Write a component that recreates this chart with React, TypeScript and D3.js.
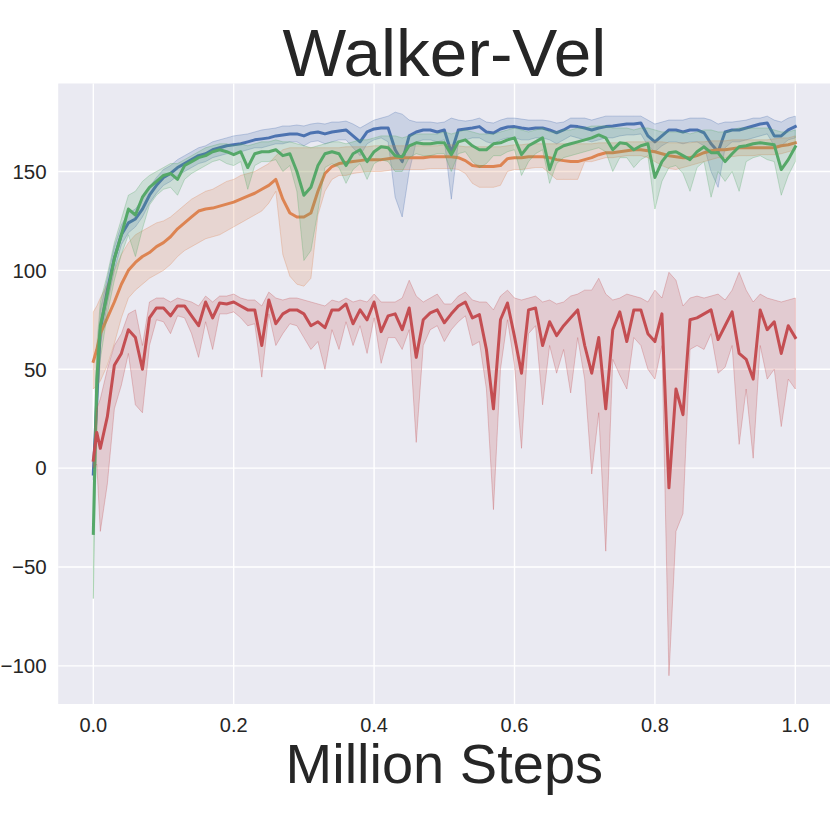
import React from 'react';
import * as d3 from 'd3';

const steps = [0, 0.005, 0.01, 0.02, 0.03, 0.04, 0.05, 0.06, 0.07, 0.08, 0.09,
  0.1, 0.11, 0.12, 0.13, 0.14, 0.15, 0.16, 0.17, 0.18, 0.19,
  0.2, 0.21, 0.22, 0.23, 0.24, 0.25, 0.26, 0.27, 0.28, 0.29,
  0.3, 0.31, 0.32, 0.33, 0.34, 0.35, 0.36, 0.37, 0.38, 0.39,
  0.4, 0.41, 0.42, 0.43, 0.44, 0.45, 0.46, 0.47, 0.48, 0.49,
  0.5, 0.51, 0.52, 0.53, 0.54, 0.55, 0.56, 0.57, 0.58, 0.59,
  0.6, 0.61, 0.62, 0.63, 0.64, 0.65, 0.66, 0.67, 0.68, 0.69,
  0.7, 0.71, 0.72, 0.73, 0.74, 0.75, 0.76, 0.77, 0.78, 0.79,
  0.8, 0.81, 0.82, 0.83, 0.84, 0.85, 0.86, 0.87, 0.88, 0.89,
  0.9, 0.91, 0.92, 0.93, 0.94, 0.95, 0.96, 0.97, 0.98, 0.99, 1.0];

const blueMean = [-3, 35, 70, 90, 106, 118, 124, 126, 131, 138, 143,
  147, 149, 152, 154, 156, 158, 159, 161, 162, 163,
  163.5, 164, 165, 166, 166.5, 167, 168, 168.5, 169, 169,
  168, 169.5, 170, 169, 170, 170.5, 171, 168, 165, 170,
  171.5, 172, 172, 161, 155, 168, 170, 171, 171, 170,
  171, 159.5, 171, 171.5, 172, 172.7, 170, 169.5, 171.5, 172.5,
  172.7, 172, 171.5, 172, 172, 171, 169.6, 171, 173, 172.7,
  172, 171, 172, 172.7, 173, 173.5, 174, 174, 174.5, 168,
  165, 168, 171, 171, 170, 171, 171, 169.6, 164, 160,
  170, 171, 171, 172, 173, 174, 174.5, 168, 168, 171, 172.7];
const blueLo = [-6, 25, 62, 83, 100, 113, 119, 122, 127, 134, 139,
  143, 145, 148, 150, 152, 154, 155, 157, 158, 159,
  159, 160, 161, 162, 162, 163, 164, 164, 165, 165,
  163, 165, 165.5, 164, 165, 166, 166, 162, 158, 164,
  166, 167, 165, 137, 127, 150, 165, 166, 166, 165,
  166, 136, 165, 166, 167, 167, 165, 164, 166, 167,
  167, 166, 166, 167, 167, 166, 164, 166, 168, 167,
  166, 165, 166, 167, 167, 168, 168.5, 168.5, 169, 163,
  160, 163, 165, 165, 164, 165, 165, 163, 150, 142,
  162, 165, 165, 166, 167, 168, 169, 163, 163, 166, 167];
const blueHi = [0, 45, 80, 96, 112, 123, 129, 131, 136, 142, 147,
  151, 153, 156, 158, 160, 162, 163, 165, 166, 167,
  168, 168.5, 169, 170, 171, 171.5, 172, 173, 173, 173.5,
  173, 174, 174.5, 174, 175, 175, 175.5, 174, 172, 174,
  176, 177, 178, 180, 179, 176, 175, 175, 175, 174.5,
  175, 177, 176, 175.5, 176, 177, 175, 174.5, 176, 177,
  177, 176.5, 176, 176, 176, 175.5, 174.5, 175, 177, 177,
  177, 176, 177, 178, 178, 178, 178, 178, 178, 176,
  174, 175, 176, 176, 176, 177, 177, 177, 176, 174,
  175, 175, 175.5, 176, 177, 177, 178, 176, 175, 177, 178];

const orangeMean = [54, 60, 68, 76, 84, 93, 100, 104, 107, 109, 112,
  114, 117, 121, 124, 127, 130, 131, 131.5, 132.5, 133.5,
  134.5, 136, 137.5, 139, 141, 143, 146, 136, 129, 127,
  127, 129, 140, 149, 152.5, 154, 154.5, 155, 155.5, 156,
  156, 156, 156.5, 157, 157, 157, 157, 157, 157.5, 157.5,
  157.5, 157.5, 157, 155.5, 153, 152.5, 152.5, 152.5, 153, 156.5,
  157, 157, 157.5, 157.5, 157.5, 157, 156, 155.5, 155, 155,
  156, 157, 158.5, 159.5, 159.5, 160, 160.5, 161, 161, 160.5,
  160, 159, 158, 157.5, 157, 157, 158, 159.5, 160.5, 161,
  161, 161.5, 162, 162, 162, 162, 162, 162, 163, 163.5, 164.5];
const orangeLo = [40, 42, 44, 52, 63, 76, 86, 90, 93, 96, 98,
  100, 103, 107, 110, 112, 114, 116, 117, 118, 120,
  122, 124, 126, 128, 130, 134, 140, 108, 97, 93,
  92, 96, 128, 140, 146, 148, 148, 149, 149.5, 150,
  150, 150, 150.5, 151, 151, 151, 151, 151, 151.5, 151.5,
  151.5, 151.5, 151, 149, 144, 142, 142, 142, 143, 150,
  151, 151, 151.5, 152, 152, 149, 146, 146, 146, 146,
  155, 155, 156, 157, 157, 157.5, 158, 158, 158, 157,
  155, 153, 151.5, 151, 152, 153, 154, 155, 156, 157,
  157, 157.5, 158, 158, 158, 158.5, 158.5, 158.5, 159, 160, 161];
const orangeHi = [79, 82, 86, 93, 100, 108, 114, 118, 120, 122, 124,
  125, 127, 130, 133, 136, 138, 140, 141, 143, 145,
  146, 148, 149, 150, 152, 154, 158, 161, 162, 162,
  162, 162, 162, 162, 162, 162, 162.5, 162.5, 162.5, 162.5,
  163, 163, 163, 163, 163, 163, 163, 163, 163, 163,
  163.5, 163.5, 163, 162.5, 162.5, 162.5, 162.5, 162.5, 162.5, 163,
  163.5, 163.5, 164, 164, 164, 164, 164, 164, 164, 164,
  164, 164, 164.5, 164.5, 164.5, 164.5, 165, 165, 165, 165,
  165, 165, 164.5, 164.5, 164.5, 164.5, 165, 165, 165.5, 165.5,
  165.5, 166, 166, 166, 166, 166, 166, 166.5, 167, 167, 168];

const greenMean = [-33, 45, 72, 88, 106, 118, 131, 128, 137, 142, 145,
  148, 149, 146, 153, 155, 157, 158, 160, 161, 160,
  158.5, 160, 152, 159, 160, 160, 161, 158, 159, 150,
  138, 142, 153, 159, 160, 159, 153, 159, 161, 155,
  160, 162.5, 162, 158, 157.5, 163, 164.5, 164, 164, 164.5,
  164.5, 158.5, 165, 166, 163, 161, 161, 164, 164.5, 166,
  167, 158.5, 163, 165, 167, 151, 161, 163, 164, 165,
  166, 167, 168.5, 167, 161, 164.5, 164, 161, 163, 164,
  147, 155, 159.5, 160, 158, 156, 160, 162.5, 159.5, 159.5,
  155, 159, 162.5, 163, 164, 164.5, 164, 163.5, 151, 156, 162.5];
const greenLo = [-66, 25, 55, 78, 95, 108, 118, 107, 121, 133, 138,
  141, 142, 138, 146, 149, 151, 153, 155, 156, 154,
  153, 155, 141, 153, 155, 155, 156, 150, 153, 140,
  105, 110, 130, 152, 154, 152, 144, 151, 154, 146,
  154, 156, 155, 150, 150, 157, 159, 158, 158, 159,
  159, 150, 159, 160, 155, 152, 154, 158, 158, 160,
  161, 148, 155, 159, 161, 144, 154, 157, 158, 159,
  160, 161, 162, 160, 150, 157, 157, 152, 156, 158,
  131, 145, 152, 153, 149, 140, 152, 155, 137, 150,
  145, 150, 140, 155, 157, 158, 156, 155, 138, 148, 155];
const greenHi = [-5, 62, 84, 98, 114, 126, 138, 140, 145, 148, 150,
  152, 154, 154, 156, 158, 160, 162, 163, 164, 164,
  163, 164, 163, 164, 165, 165, 166, 165, 165, 164,
  163, 162, 163, 164, 165, 165, 164, 165, 166, 166,
  167, 168, 168, 168, 167, 168, 169, 169, 169, 169,
  170, 169, 170, 171, 170, 169, 169, 169, 170, 171,
  172, 171, 170, 171, 172, 170, 170, 171, 171, 172,
  172, 173, 173, 173, 172, 172, 172, 171, 172, 172,
  171, 170, 170, 170, 170, 169, 170, 171, 171, 170,
  170, 171, 172, 172, 172, 172, 172, 171, 170, 170, 171];

const redMean = [4, 18, 10, 26, 52, 58, 70, 66, 50, 76, 81,
  81, 77, 82, 82, 77, 72, 84, 76, 83.5, 83,
  84, 82, 80, 80, 62, 85, 73, 78, 80, 80,
  78, 72, 74, 71, 80, 80, 83, 73, 80, 75,
  84, 69, 77, 78, 70, 81, 56, 75, 78.5, 80,
  73.5, 78, 82, 84, 76, 77.6, 60, 30, 75, 83.5,
  66.5, 48, 80, 81, 62, 74, 67, 72, 76, 80,
  62, 48, 66, 30, 70, 79, 64, 80, 80, 68,
  64, 78, -10, 40, 27, 75, 76, 78, 80, 65,
  72, 79, 58, 55, 45, 80, 70, 74, 58, 72, 66];
const redLo = [0, 2, -32, -8, 30, 42, 58, 32, 28, 62, 75,
  74, 68, 77, 76, 68, 56, 74, 60, 78, 78,
  79, 76, 72, 73, 46, 78, 62, 68, 73, 72,
  66, 60, 64, 50, 70, 60, 74, 62, 72, 58,
  76, 53, 66, 66, 60, 70, 13, 62, 70, 72,
  64, 70, 74, 77, 62, 64, 40, -21, 50, 75,
  52, 10, 68, 72, 32, 62, 48, 60, 38, 66,
  45, -3, 28, -42, 55, 47, 40, 66, 62, 50,
  45, 62, -105, -32, -23, 60, 62, 60, 68, 48,
  51, 62, 12, 40, 5, 62, 45, 50, 21, 45, 40];
const redHi = [8, 30, 35, 50, 62, 68, 78, 80, 62, 84, 86,
  86, 84, 86, 85, 84, 82, 87, 84, 87, 87,
  88, 86, 85, 85, 82, 89, 86, 85, 86, 86,
  85, 84, 83, 82, 85, 84, 86, 84, 85, 84,
  88, 84, 84, 84, 86, 95, 87, 84, 86, 88,
  83, 83, 87, 89, 85, 84, 84, 80, 87, 90,
  86, 85, 86, 87, 84, 85, 83, 84, 87, 88,
  90, 90, 96, 88, 85, 86, 88, 87, 86, 84,
  90, 86, 99, 95, 82, 86, 87, 86, 87, 88,
  85, 90, 99, 90, 84, 88, 86, 85, 84, 85, 86];

const xTicks = [0, 0.2, 0.4, 0.6, 0.8, 1.0];
const yTicks = [-100, -50, 0, 50, 100, 150];

const seriesList = [
  { name: 'blue', color: '#4c72b0', mean: blueMean, lo: blueLo, hi: blueHi },
  { name: 'orange', color: '#dd8452', mean: orangeMean, lo: orangeLo, hi: orangeHi },
  { name: 'green', color: '#55a868', mean: greenMean, lo: greenLo, hi: greenHi },
  { name: 'red', color: '#c44e52', mean: redMean, lo: redLo, hi: redHi },
];

const FONT = '"Liberation Sans", Arial, Helvetica, sans-serif';
const TEXT = '#262626';

export default function App() {
  const left = 58.2, right = 830.4, top = 83.5, bottom = 704;
  const x = d3.scaleLinear().domain([-0.05, 1.05]).range([left, right]);
  const y = d3.scaleLinear().domain([-119.3, 194.5]).range([bottom, top]);

  const idx = steps.map((_, i) => i);

  return (
    <svg width={830} height={830} style={{ position: 'absolute', left: 0, top: 0, background: '#ffffff' }}>
      <defs>
        <clipPath id="plotClip">
          <rect x={left} y={top} width={right - left} height={bottom - top} />
        </clipPath>
      </defs>
      <rect x={left} y={top} width={right - left} height={bottom - top} fill="#eaeaf2" />
      {xTicks.map(t => (
        <line key={'gx' + t} x1={x(t)} x2={x(t)} y1={top} y2={bottom} stroke="#ffffff" strokeWidth={1.4} />
      ))}
      {yTicks.map(t => (
        <line key={'gy' + t} x1={left} x2={right} y1={y(t)} y2={y(t)} stroke="#ffffff" strokeWidth={1.4} />
      ))}
      <g clipPath="url(#plotClip)">
        {seriesList.map(s => {
          const area = d3.area<number>()
            .x(i => x(steps[i]))
            .y0(i => y(s.lo[i]))
            .y1(i => y(s.hi[i]));
          const line = d3.line<number>()
            .x(i => x(steps[i]))
            .y(i => y(s.mean[i]));
          return (
            <g key={s.name}>
              <path d={area(idx) || ''} fill={s.color} fillOpacity={0.2} stroke={s.color} strokeOpacity={0.3} strokeWidth={1} />
              <path d={line(idx) || ''} fill="none" stroke={s.color} strokeWidth={3} strokeLinejoin="round" strokeLinecap="square" />
            </g>
          );
        })}
      </g>
      {xTicks.map(t => (
        <text key={'tx' + t} x={x(t)} y={731.5} textAnchor="middle" fontFamily={FONT} fontSize={20} fill={TEXT}>
          {d3.format('.1f')(t)}
        </text>
      ))}
      {yTicks.map(t => (
        <text key={'ty' + t} x={46.7} y={y(t) + 7.3} textAnchor="end" fontFamily={FONT} fontSize={20.5} fill={TEXT}>
          {t < 0 ? '\u2212' + Math.abs(t) : String(t)}
        </text>
      ))}
      <text x={(left + right) / 2} y={76} textAnchor="middle" fontFamily={FONT} fontSize={67.5} fill={TEXT}>
        Walker-Vel
      </text>
      <text x={(left + right) / 2} y={783} textAnchor="middle" fontFamily={FONT} fontSize={56} fill={TEXT}>
        Million Steps
      </text>
    </svg>
  );
}
